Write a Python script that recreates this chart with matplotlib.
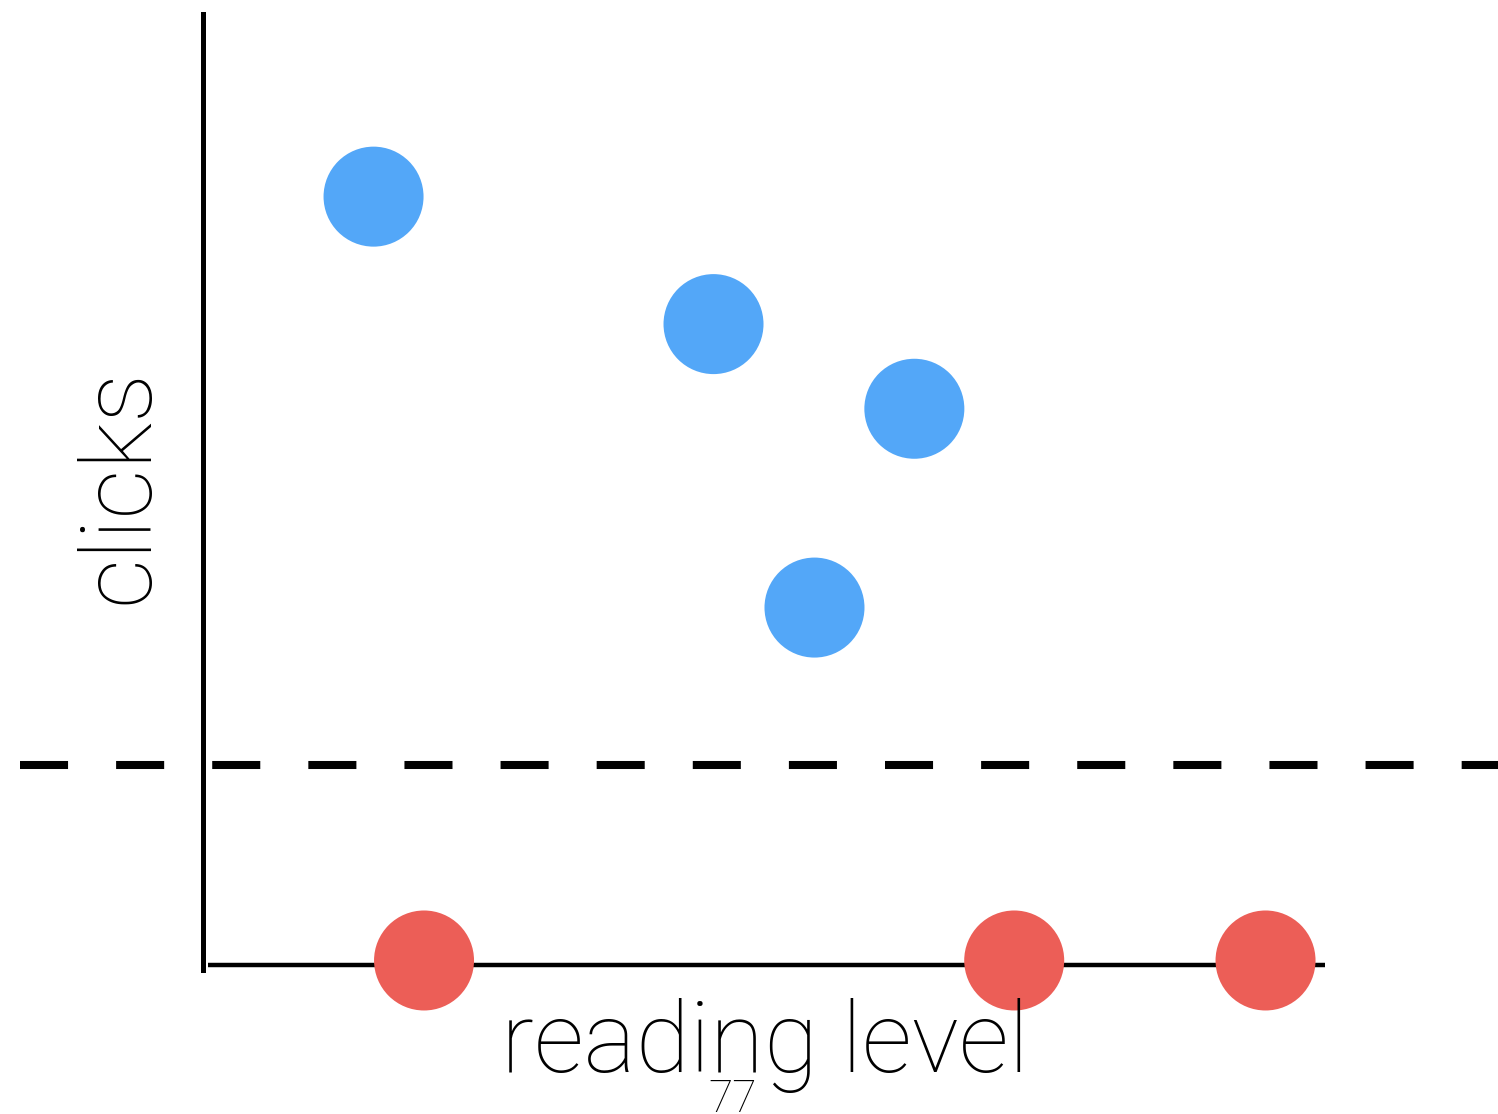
import matplotlib
matplotlib.use("Agg")
import matplotlib.pyplot as plt

# reading level vs. clicks
blue_reading = [1.52, 4.55, 6.34, 5.45]
blue_clicks = [8.08, 6.74, 5.85, 3.76]
red_reading = [1.97, 7.23, 9.47]
red_clicks = [0.05, 0.05, 0.05]
threshold = 2.1

BLUE = "#53A7F8"
RED = "#EC5E57"

plt.rcParams["lines.scale_dashes"] = False
font = ["Roboto", "DejaVu Sans"]

W, H = 1498, 1114
fig = plt.figure(figsize=(W / 100, H / 100), dpi=100)

left, right, top, bottom = 203, 1325, 14, 970
ax = fig.add_axes([left / W, (H - bottom) / H, (right - left) / W, (bottom - top) / H])
ax.set_xlim(0, 10)
ax.set_ylim(-0.05, 10)

for s in ("top", "right"):
    ax.spines[s].set_visible(False)
ax.spines["left"].set_linewidth(3.6)
ax.spines["bottom"].set_linewidth(3.2)
ax.spines["bottom"].set_position(("data", 0))
ax.spines["bottom"].set_bounds(0.045, 10)
ax.spines["bottom"].set_capstyle("butt")
ax.set_xticks([])
ax.set_yticks([])

# threshold line extending past the axes on both sides
ax.axhline(threshold, xmin=-0.163, xmax=1.16, color="black", lw=5.8,
           dashes=(34.6, 34.6), dash_capstyle="butt", clip_on=False)

ax.scatter(blue_reading, blue_clicks, s=72 ** 2, color=BLUE, edgecolors="none",
           clip_on=False, zorder=3)
ax.scatter(red_reading, red_clicks, s=72 ** 2, color=RED, edgecolors="none",
           clip_on=False, zorder=3)

fig.text(765 / W, (H - 1072) / H, "reading level", ha="center", va="baseline",
         fontsize=71, family=font, fontweight="light")
fig.text(147 / W, (H - 486) / H, "clicks", ha="center", va="baseline",
         rotation=90, rotation_mode="anchor",
         fontsize=71, family=font, fontweight="light")
fig.text(733 / W, (H - 1112) / H, "77", ha="center", va="baseline",
         fontsize=32, family=font, fontweight="light")

fig.savefig("out.png", dpi=100)
